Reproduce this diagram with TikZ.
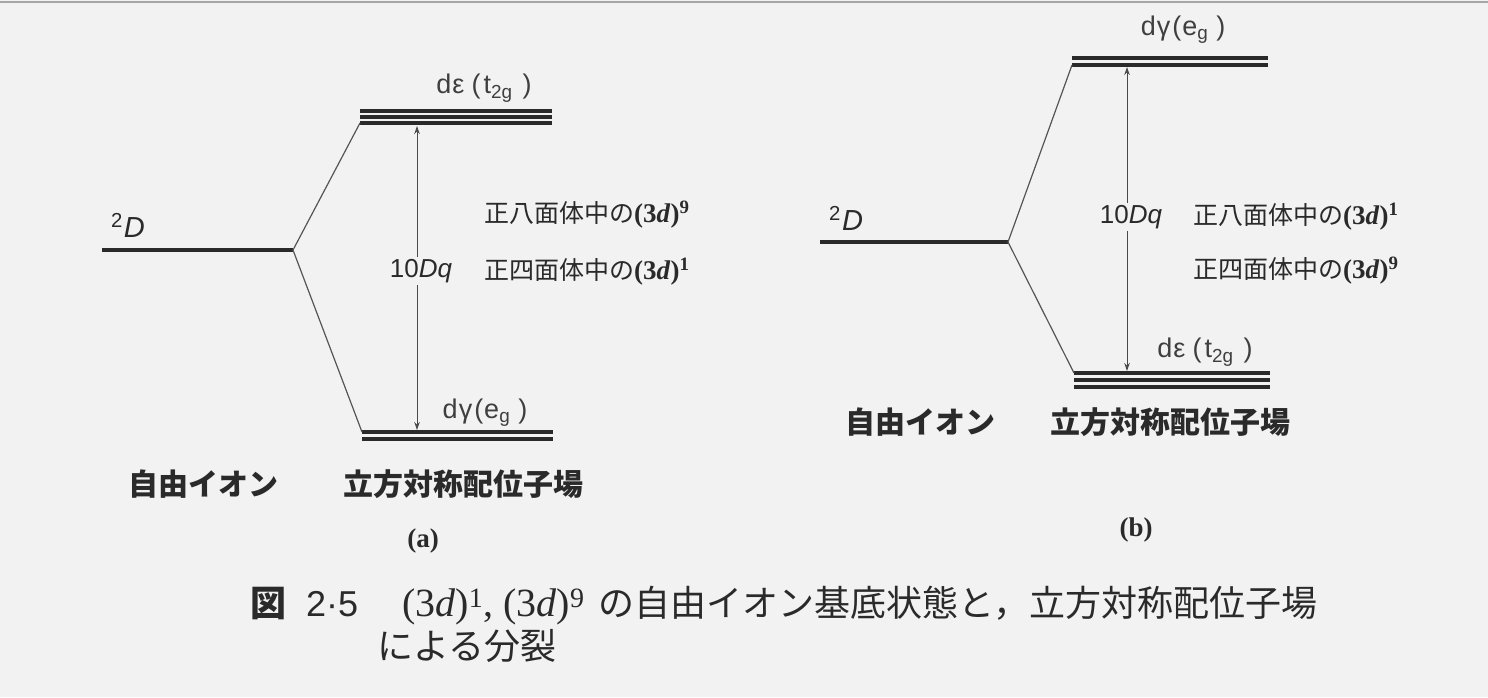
\documentclass[tikz,border=0pt]{standalone}
\usepackage{fontspec}
\setmainfont{Liberation Serif}
\setsansfont{Liberation Sans}
\newfontfamily\jp{Noto Sans CJK JP}
\usetikzlibrary{arrows.meta}
\definecolor{bg}{HTML}{F2F2F2}
\definecolor{ink}{HTML}{2A2A2A}
\newcommand\threed[1]{{\rmfamily\bfseries\fontsize{27}{30}\selectfont(3\textit{d})\textsuperscript{#1}}}
\newcommand\teg{d\kern1ptε\kern7pt(\kern3pt t\textsubscript{2g}\kern10pt)}
\newcommand\eg{d\kern1ptγ\kern2pt(\kern1pt e\textsubscript{g}\kern8pt)}
\tikzset{
  freeline/.style={draw=ink, line width=3.4pt},
  levelline/.style={draw=ink, line width=3.2pt},
  branch/.style={draw=ink!80, line width=1.2pt},
  gaparrow/.style={draw=ink!85, line width=0.9pt, {Stealth[length=8pt,width=5.5pt]}-{Stealth[length=8pt,width=5.5pt]}},
  lab/.style={inner sep=0pt, text=ink!90, font=\sffamily\fontsize{27}{30}\selectfont},
  dlab/.style={inner sep=0pt, text=ink, font=\sffamily\fontsize{29}{32}\selectfont},
  dqlab/.style={inner sep=2pt, fill=bg, text=ink, font=\sffamily\fontsize{26}{30}\selectfont},
  jplab/.style={inner sep=0pt, text=ink, font=\jp\fontsize{25}{30}\selectfont},
  jpgothic/.style={inner sep=0pt, text=ink, font=\jp\bfseries\fontsize{30}{34}\selectfont},
  sublab/.style={inner sep=0pt, text=ink, font=\rmfamily\bfseries\fontsize{27}{30}\selectfont},
  caption/.style={inner sep=0pt, text=ink, font=\jp\fontsize{36}{40}\selectfont},
}
\begin{document}
\begin{tikzpicture}[x=1pt,y=-1pt]
\fill[bg] (0,0) rectangle (1488,697);
\useasboundingbox (0,0) rectangle (1488,697);
\draw[gray!70, line width=1.5pt] (0,2) -- (1488,2);

% ---------- (a) ----------
\coordinate (aF1) at (102,250);
\coordinate (aF2) at (293,250);
\draw[freeline] (aF1) -- (aF2);
\node[dlab, anchor=base west] (aD) at (111,237) {\textsuperscript{2}\kern1pt\textit{D}};

\coordinate (aU1) at (360,111);
\coordinate (aU2) at (552,111);
\foreach \d in {0,6,12} \draw[levelline] ([yshift=-\d pt]aU1) -- ([yshift=-\d pt]aU2);
\coordinate (aL1) at (362,432);
\coordinate (aL2) at (553,432);
\foreach \d in {0,7} \draw[levelline] ([yshift=-\d pt]aL1) -- ([yshift=-\d pt]aL2);

\draw[branch] (aF2) -- ([yshift=-12pt]aU1);
\draw[branch] (aF2) -- (aL1);

\coordinate (aG1) at (417,126);
\coordinate (aG2) at (417,430);
\draw[gaparrow] (aG1) -- (aG2);

\node[lab] (aT) at (484,88) {\teg};
\node[lab] (aE) at (485,413) {\eg};
\node[dqlab] (aQ) at (421,271) {10\textit{Dq}};
\node[jplab, anchor=west] (aO) at (484,215) {正八面体中の\threed{9}};
\node[jplab, anchor=west] (aH) at (484,272) {正四面体中の\threed{1}};
\node[jpgothic] (aI) at (203,484) {自由イオン};
\node[jpgothic] (aC) at (463,484) {立方対称配位子場};
\node[sublab] (aS) at (423,541) {(a)};

% ---------- (b) ----------
\coordinate (bF1) at (820,242);
\coordinate (bF2) at (1008,242);
\draw[freeline] (bF1) -- (bF2);
\node[dlab, anchor=base west] (bD) at (829,230) {\textsuperscript{2}\kern1pt\textit{D}};

\coordinate (bU1) at (1072,58);
\coordinate (bU2) at (1268,58);
\foreach \d in {0,7} \draw[levelline] ([yshift=-\d pt]bU1) -- ([yshift=-\d pt]bU2);
\coordinate (bL1) at (1074,373);
\coordinate (bL2) at (1270,373);
\foreach \d in {0,7,14} \draw[levelline] ([yshift=-\d pt]bL1) -- ([yshift=-\d pt]bL2);

\draw[branch] (bF2) -- ([yshift=-7pt]bU1);
\draw[branch] (bF2) -- (bL1);

\coordinate (bG1) at (1127,67);
\coordinate (bG2) at (1127,371);
\draw[gaparrow] (bG1) -- (bG2);

\node[lab] (bE) at (1183,30) {\eg};
\node[lab] (bT) at (1205,352) {\teg};
\node[dqlab] (bQ) at (1131,217) {10\textit{Dq}};
\node[jplab, anchor=west] (bO) at (1193,217) {正八面体中の\threed{1}};
\node[jplab, anchor=west] (bH) at (1193,271) {正四面体中の\threed{9}};
\node[jpgothic] (bI) at (920,422) {自由イオン};
\node[jpgothic] (bC) at (1170,422) {立方対称配位子場};
\node[sublab] (bS) at (1136,530) {(b)};

% ---------- caption ----------
\node[caption, anchor=west] (cap1) at (250,606) {{\bfseries 図}\hspace{20pt}{\sffamily 2·5}\hspace{44pt}{\rmfamily\fontsize{40}{44}\selectfont(3\textit{d})\textsuperscript{1}, (3\textit{d})\textsuperscript{9}}\hspace{14pt}の自由イオン基底状態と，立方対称配位子場};
\node[caption, anchor=west] (cap2) at (377,646) {による分裂};
\end{tikzpicture}
\end{document}
